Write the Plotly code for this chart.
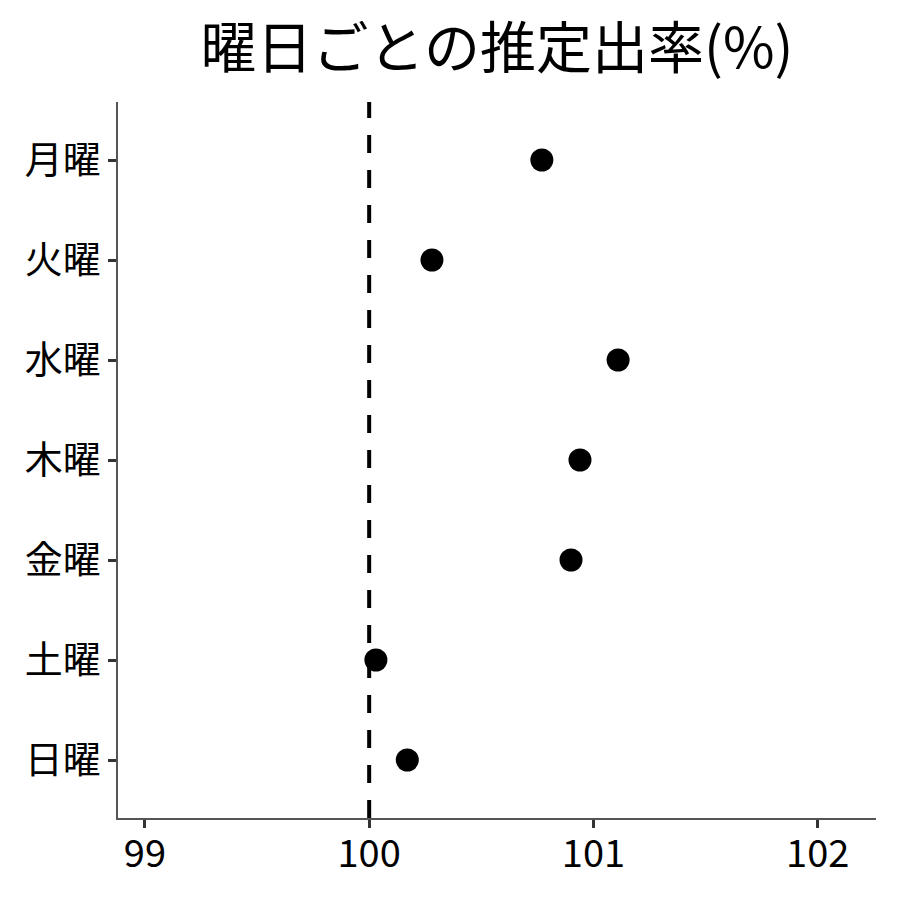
import plotly.graph_objects as go

days = ["月曜", "火曜", "水曜", "木曜", "金曜", "土曜", "日曜"]
rates = [100.77, 100.28, 101.11, 100.94, 100.90, 100.03, 100.17]
ref_value = 100
x_ticks = [99, 100, 101, 102]

FONT = "Noto Sans CJK JP"

fig = go.Figure()
fig.add_trace(go.Scatter(
    x=rates, y=days, mode="markers",
    marker=dict(color="black", size=23),
    showlegend=False,
))
fig.add_shape(type="line", xref="x", yref="paper", x0=ref_value, x1=ref_value, y0=0, y1=1,
              line=dict(color="black", width=4, dash="18px,17px"))

fig.update_layout(
    width=900, height=900,
    margin=dict(l=110, r=32, t=94, b=90),
    paper_bgcolor="white", plot_bgcolor="white",
    font=dict(family=FONT, color="black"),
    title=dict(text="曜日ごとの推定出率(%)", x=0.5, xref="paper", xanchor="center",
               y=0.955, yanchor="middle",
               font=dict(size=56, family=FONT, color="black")),
)
fig.update_xaxes(range=[98.88, 102.26], tickvals=x_ticks, showgrid=False, zeroline=False,
                 showline=True, linecolor="#555555", linewidth=1.5,
                 ticks="outside", ticklen=8, tickwidth=3, tickcolor="#333333",
                 ticklabelstandoff=-6,
                 tickfont=dict(size=38, family=FONT, color="black"))
fig.update_yaxes(categoryorder="array", categoryarray=days, range=[6.58, -0.58],
                 showgrid=False, zeroline=False,
                 showline=True, linecolor="#555555", linewidth=1.5,
                 ticks="outside", ticklen=8, tickwidth=3, tickcolor="#333333",
                 tickfont=dict(size=38, family=FONT, color="black"))

fig.write_html("out.html")
